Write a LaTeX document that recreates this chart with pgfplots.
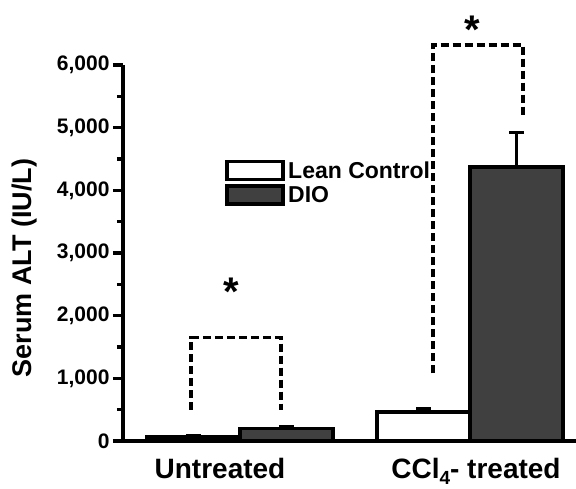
\documentclass[border=0pt]{standalone}
\usepackage{pgfplots}
\pgfplotsset{compat=1.18}
\usepackage{fontspec}
\setmainfont{Liberation Sans}
\definecolor{dio}{RGB}{64,64,64}
\begin{document}
\begin{tikzpicture}
\begin{axis}[
  scale only axis,
  width=453pt, height=376pt,
  xmin=123, xmax=576,
  ymin=0, ymax=6000,
  clip=false,
  axis x line*=bottom,
  axis y line*=left,
  axis line style={-, line width=3.5pt},
  ytick={0,1000,2000,3000,4000,5000,6000},
  minor ytick={500,1500,2500,3500,4500,5500},
  tick align=outside,
  major tick length=10pt,
  minor tick length=6pt,
  every tick/.style={line width=3.2pt, black},
  yticklabel style={font=\fontsize{21}{21}\selectfont\bfseries},
  /pgf/number format/.cd, 1000 sep={,}, assume math mode=true,
  /pgfplots/.cd,
  xtick={220,476},
  xticklabels={Untreated, CCl\raisebox{-6pt}{\fontsize{19}{19}\selectfont 4}- treated},
  xtick style={draw=none},
  xticklabel style={font=\fontsize{28}{28}\selectfont\bfseries, yshift=-4pt},
  ylabel={Serum ALT (IU/L)},
  ylabel style={font=\fontsize{27}{27}\selectfont\bfseries, at={(rel axis cs:-0.218,0.46)}, anchor=center},
  legend style={at={(axis cs:222,4520)}, anchor=north west, draw=none, fill=none,
    font=\fontsize{23}{23}\selectfont\bfseries, row sep=3pt, column sep=2pt,
    nodes={inner sep=1.5pt}},
  legend cell align=left,
]
\addplot[ybar, bar width=93, bar shift=0pt, fill=white, draw=black, line width=3.5pt,
  legend image code/.code={\draw[fill=white, draw=black, line width=3.5pt] (0pt,-9pt) rectangle (56pt,9pt);},
  error bars/.cd, y dir=plus, y explicit,
  error bar style={line width=3.2pt, black},
  error mark options={rotate=90, mark size=7.5pt, line width=3.5pt, black}]
  coordinates {(193.5,60) +- (0,20) (423.5,460) +- (0,50)};
\addlegendentry{Lean Control}
\addplot[ybar, bar width=93, bar shift=0pt, fill=dio, draw=black, line width=3.5pt,
  legend image code/.code={\draw[fill=dio, draw=black, line width=3.5pt] (0pt,-9pt) rectangle (56pt,9pt);},
  error bars/.cd, y dir=plus, y explicit,
  error bar style={line width=3.2pt, black},
  error mark options={rotate=90, mark size=7.5pt, line width=3.5pt, black}]
  coordinates {(286.5,200) +- (0,30) (516.5,4370) +- (0,550)};
\addlegendentry{DIO}
\addplot[sharp plot, forget plot, black, line width=3.2pt, dash pattern=on 8pt off 4pt]
  coordinates {(191,500) (191,1650) (281,1650) (281,500)};
\addplot[sharp plot, forget plot, black, line width=3.2pt, dash pattern=on 8pt off 4pt]
  coordinates {(433,1080) (433,6320) (523,6320) (523,5170)};
\node[anchor=base, font=\fontsize{40}{40}\selectfont\bfseries] at (axis cs:231,2155) {*};
\node[anchor=base, font=\fontsize{40}{40}\selectfont\bfseries] at (axis cs:472,6350) {*};
\coordinate (bl) at (axis cs:0,-766);
\coordinate (tr) at (axis cs:576,7037);
\end{axis}
\pgfresetboundingbox
\path[use as bounding box] (bl) rectangle (tr);
\end{tikzpicture}
\end{document}
